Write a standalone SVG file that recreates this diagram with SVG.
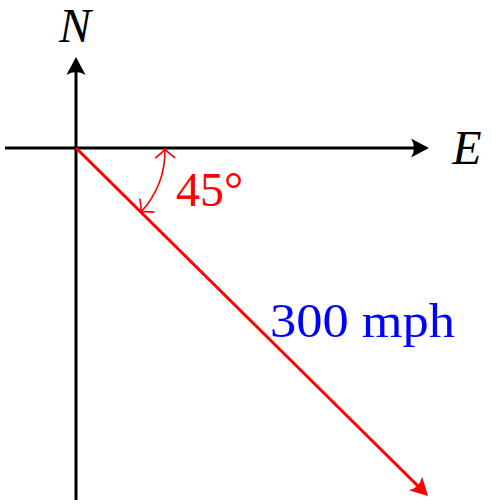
<svg xmlns="http://www.w3.org/2000/svg" width="492" height="504" viewBox="0 0 492 504">
<style>
.lbl{font-family:"Liberation Serif","DejaVu Serif",serif;font-size:48px}
.it{font-style:italic}
</style>
<defs>
<marker id="ak" markerWidth="8" markerHeight="8" viewBox="-6 -4 8 8" refX="0" refY="0" orient="auto" markerUnits="strokeWidth">
<path d="M1,0 L-5,-3.2 Q-3,0 -5,3.2 Z" fill="black"/>
</marker>
<marker id="ar" markerWidth="8" markerHeight="8" viewBox="-6 -4 8 8" refX="0" refY="0" orient="auto" markerUnits="strokeWidth">
<path d="M1,0 L-5,-3.2 Q-3,0 -5,3.2 Z" fill="red"/>
</marker>
<marker id="ao" markerWidth="24" markerHeight="24" viewBox="-12 -12 14 24" refX="0" refY="0" orient="auto-start-reverse" markerUnits="userSpaceOnUse">
<path d="M-9,-10 Q-3,-2 0,0 Q-3,2 -9,10" fill="none" stroke="red" stroke-width="1.6"/>
</marker>
</defs>
<g id="connectors" fill="none">
<line x1="5" y1="148" x2="426" y2="148" stroke="black" stroke-width="3" marker-end="url(#ak)"/>
<line x1="76" y1="500" x2="76" y2="60" stroke="black" stroke-width="3" marker-end="url(#ak)"/>
<line x1="76" y1="148" x2="426" y2="494" stroke="red" stroke-width="3" marker-end="url(#ar)"/>
<path d="M165,149 A92,92 0 0 1 141,212" stroke="red" stroke-width="1.6" marker-start="url(#ao)" marker-end="url(#ao)"/>
</g>
<g id="N"><text class="lbl it" x="75" y="42" text-anchor="middle" font-size="44">N</text></g>
<g id="E"><text class="lbl it" x="467" y="164" text-anchor="middle">E</text></g>
<g id="angle"><text class="lbl" x="176" y="206" fill="red">45°</text></g>
<g id="speed"><text class="lbl" x="270" y="337" fill="blue" textLength="185" lengthAdjust="spacingAndGlyphs">300 mph</text></g>
</svg>
